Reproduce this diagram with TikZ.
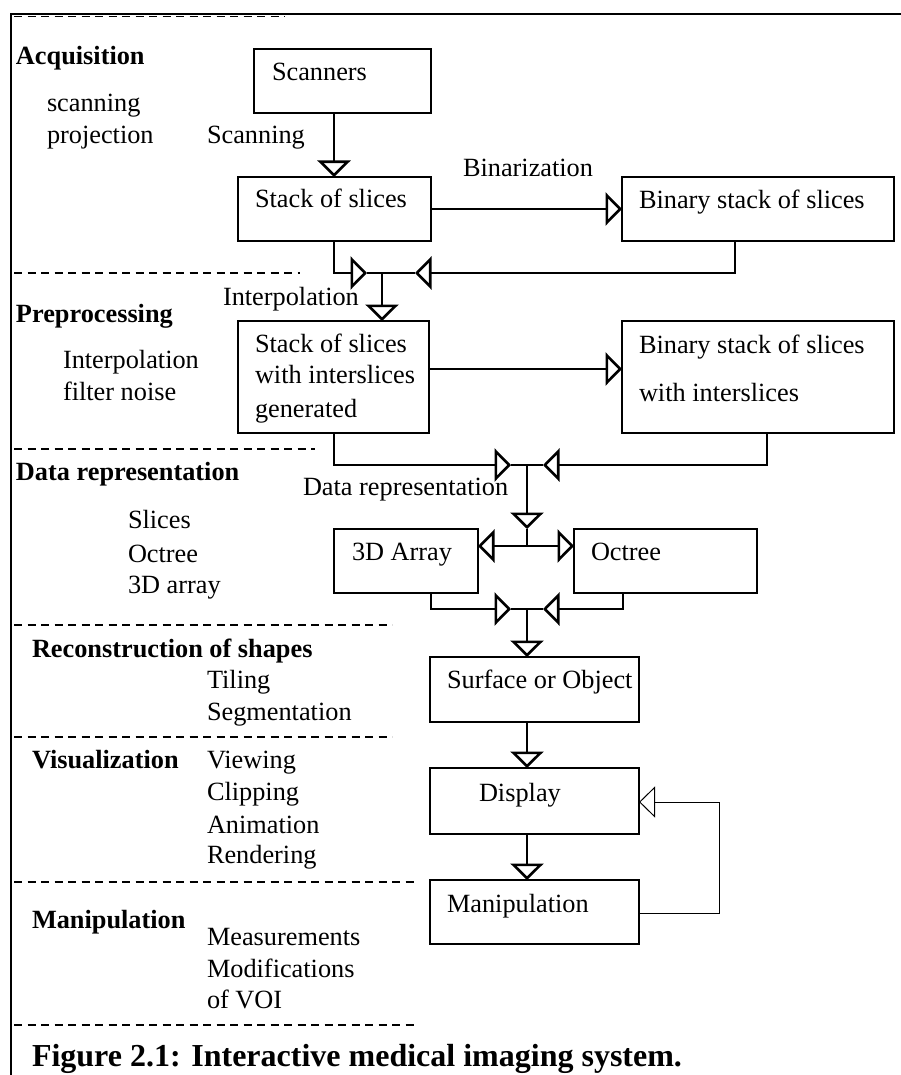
\documentclass[tikz,border=0pt]{standalone}
\usepackage{fontspec}
\setmainfont{Liberation Serif}
\usetikzlibrary{arrows.meta,calc}
\newcommand\flowbox[5]{%
  \node[box, anchor=north west, minimum width={(#4-#2)*1pt},
        minimum height={(#5-#3)*1pt}] (#1) at (#2,#3) {};}
\begin{document}
\begin{tikzpicture}[x=1pt,y=-1pt,
  box/.style={draw, line width=2.6pt, inner sep=0pt, outer sep=0pt},
  txt/.style={inner sep=0pt, outer sep=0pt, anchor=base west,
              font=\fontsize{26.3}{32}\selectfont},
  head/.style={txt, font=\fontsize{26.3}{32}\selectfont\bfseries},
  flow/.style={line width=2.6pt, -{Triangle[open, length=16.5pt, width=33pt]}},
  fbk/.style={line width=1pt, -{Triangle[open, length=16pt, width=31pt]}},
  link/.style={line width=2.6pt},
  sep/.style={line width=1.2pt, dash pattern=on 8pt off 5.5pt},
]
\useasboundingbox (0,0) rectangle (901,1075);

% frame
\draw[line width=2.6pt] (11,1075) -- (11,14) -- (901,14);

% stage separators
\draw[sep] (14,16.7) -- (285,16.7);
\draw[sep] (14,273) -- (300,273);
\draw[sep] (14,449) -- (315,449);
\draw[sep] (14,625) -- (392,625);
\draw[sep] (14,737) -- (392,737);
\draw[sep] (14,882) -- (415,882);
\draw[sep] (14,1025) -- (415,1025);

% stage headings and their operations
\node[head] (hAcq) at (16,65) {Acquisition};
\node[txt] (tAcq1) at (47,112) {scanning};
\node[txt] (tAcq2) at (47,144) {projection};

\node[head] (hPre) at (16,322) {Preprocessing};
\node[txt] (tPre1) at (63,368) {Interpolation};
\node[txt] (tPre2) at (63,400) {filter noise};

\node[head] (hDat) at (16,480) {Data representation};
\node[txt] (tDat1) at (128,528) {Slices};
\node[txt] (tDat2) at (128,562) {Octree};
\node[txt] (tDat3) at (128,593) {3D array};

\node[head] (hRec) at (32,657) {Reconstruction of shapes};
\node[txt] (tRec1) at (207,688) {Tiling};
\node[txt] (tRec2) at (207,720) {Segmentation};

\node[head] (hVis) at (32,768) {Visualization};
\node[txt] (tVis1) at (207,768) {Viewing};
\node[txt] (tVis2) at (207,800) {Clipping};
\node[txt] (tVis3) at (207,833) {Animation};
\node[txt] (tVis4) at (207,863) {Rendering};

\node[head] (hMan) at (32,928) {Manipulation};
\node[txt] (tMan1) at (207,945) {Measurements};
\node[txt] (tMan2) at (207,977) {Modifications};
\node[txt] (tMan3) at (207,1008) {of VOI};

% pipeline boxes
\flowbox{scan}{254}{49}{431}{113}
\flowbox{stack}{238}{177}{431}{241}
\flowbox{bin}{622}{177}{894}{241}
\flowbox{stackI}{238}{321}{429}{433}
\flowbox{binI}{622}{321}{894}{433}
\flowbox{arr}{334}{529}{478}{593}
\flowbox{oct}{574}{529}{757}{593}
\flowbox{surf}{430}{657}{639}{722}
\flowbox{disp}{430}{768}{639}{834}
\flowbox{manip}{430}{880}{639}{944}

% box texts
\node[txt] (xScan) at (272,81) {Scanners};
\node[txt] (xStack) at (255,208) {Stack of slices};
\node[txt] (xBin) at (639,209) {Binary stack of slices};
\node[txt] (xStackI1) at (255,352) {Stack of slices};
\node[txt] (xStackI2) at (255,383) {with interslices};
\node[txt] (xStackI3) at (255,417) {generated};
\node[txt] (xBinI1) at (639,353) {Binary stack of slices};
\node[txt] (xBinI2) at (639,401) {with interslices};
\node[txt] (xArr) at (352,560) {3D Array};
\node[txt] (xOct) at (591,560) {Octree};
\node[txt] (xSurf) at (447,688) {Surface or Object};
\node[txt] (xDisp) at (479,801) {Display};
\node[txt] (xManip) at (447,912) {Manipulation};

% connector labels
\node[txt] (lScan) at (207,144) {Scanning};
\node[txt] (lBin) at (463,177) {Binarization};
\node[txt] (lInt) at (223,305) {Interpolation};
\node[txt] (lDat) at (303,495) {Data representation};

% junction points
\coordinate (jAl) at (367,273); \coordinate (jA) at (382,273); \coordinate (jAr) at (415,273);
\coordinate (jBl) at (511,465); \coordinate (jB) at (527,465); \coordinate (jBr) at (543,465);
\coordinate (jC) at (527,529);  \coordinate (jD) at (527,546);
\coordinate (jEl) at (511,609); \coordinate (jE) at (527,609); \coordinate (jEr) at (543,609);
\coordinate (fb) at (719,802);

% acquisition
\draw[flow] ($(scan.south west)+(80,0)$) -- ($(stack.north west)+(96,0)$);
\draw[flow] (stack.east) -- (bin.west);

% preprocessing
\draw[flow] ($(stack.south west)+(96,0)$) |- (jAl);
\draw[flow] ($(bin.south west)+(113,0)$) |- (jAr);
\draw[link] (jAl) -- (jAr);
\draw[flow] (jA) -- (jA |- stackI.north);
\draw[flow] ($(stackI.north east)+(0,48)$) -- ($(binI.north west)+(0,48)$);

% data representation
\draw[flow] ($(stackI.south west)+(96,0)$) |- (jBl);
\draw[flow] ($(binI.south west)+(145,0)$) |- (jBr);
\draw[link] (jBl) -- (jBr);
\draw[flow] (jB) -- (jC);
\draw[link] (jC) -- (jD);
\draw[flow] (jD) -- (jD -| arr.east);
\draw[flow] (jD) -- (jD -| oct.west);

% reconstruction, visualization, manipulation
\draw[flow] ($(arr.south west)+(97,0)$) |- (jEl);
\draw[flow] ($(oct.south west)+(49,0)$) |- (jEr);
\draw[link] (jEl) -- (jEr);
\draw[flow] (jE) -- (jE |- surf.north);
\draw[flow] ($(surf.south west)+(97,0)$) -- ($(disp.north west)+(97,0)$);
\draw[flow] ($(disp.south west)+(97,0)$) -- ($(manip.north west)+(97,0)$);
\draw[fbk] ($(manip.north east)+(0,33)$) -| (fb) -- (fb -| disp.east);

% caption
\node[txt, font=\fontsize{32}{38}\selectfont\bfseries] (cap) at (32,1066)
  {Figure 2.1: Interactive medical imaging system.};
\end{tikzpicture}
\end{document}
